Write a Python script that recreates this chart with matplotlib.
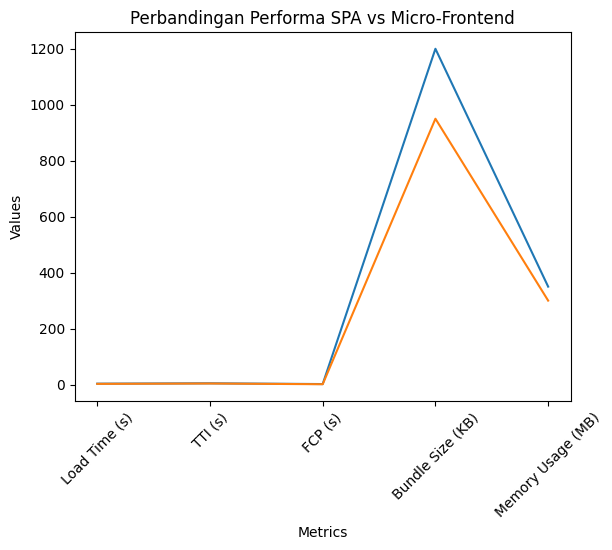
import matplotlib
matplotlib.use('Agg')
import matplotlib.pyplot as plt

metrics = ['Load Time (s)', 'TTI (s)', 'FCP (s)', 'Bundle Size (KB)', 'Memory Usage (MB)']
spa = [3.2, 4.5, 1.8, 1200, 350]
micro_frontend = [2.5, 3.8, 1.2, 950, 300]

fig = plt.figure(figsize=(6.12, 5.5), dpi=100)
# posisi axes disesuaikan dengan gambar referensi
ax = fig.add_axes([74.7 / 612, 149 / 550, 496 / 612, 369 / 550])

ax.plot(metrics, spa, label='SPA')
ax.plot(metrics, micro_frontend, label='Micro-Frontend')
ax.set_title('Perbandingan Performa SPA vs Micro-Frontend')
ax.set_xlabel('Metrics')
ax.set_ylabel('Values')
plt.setp(ax.get_xticklabels(), rotation=45)

fig.savefig('out.png', dpi=100)
